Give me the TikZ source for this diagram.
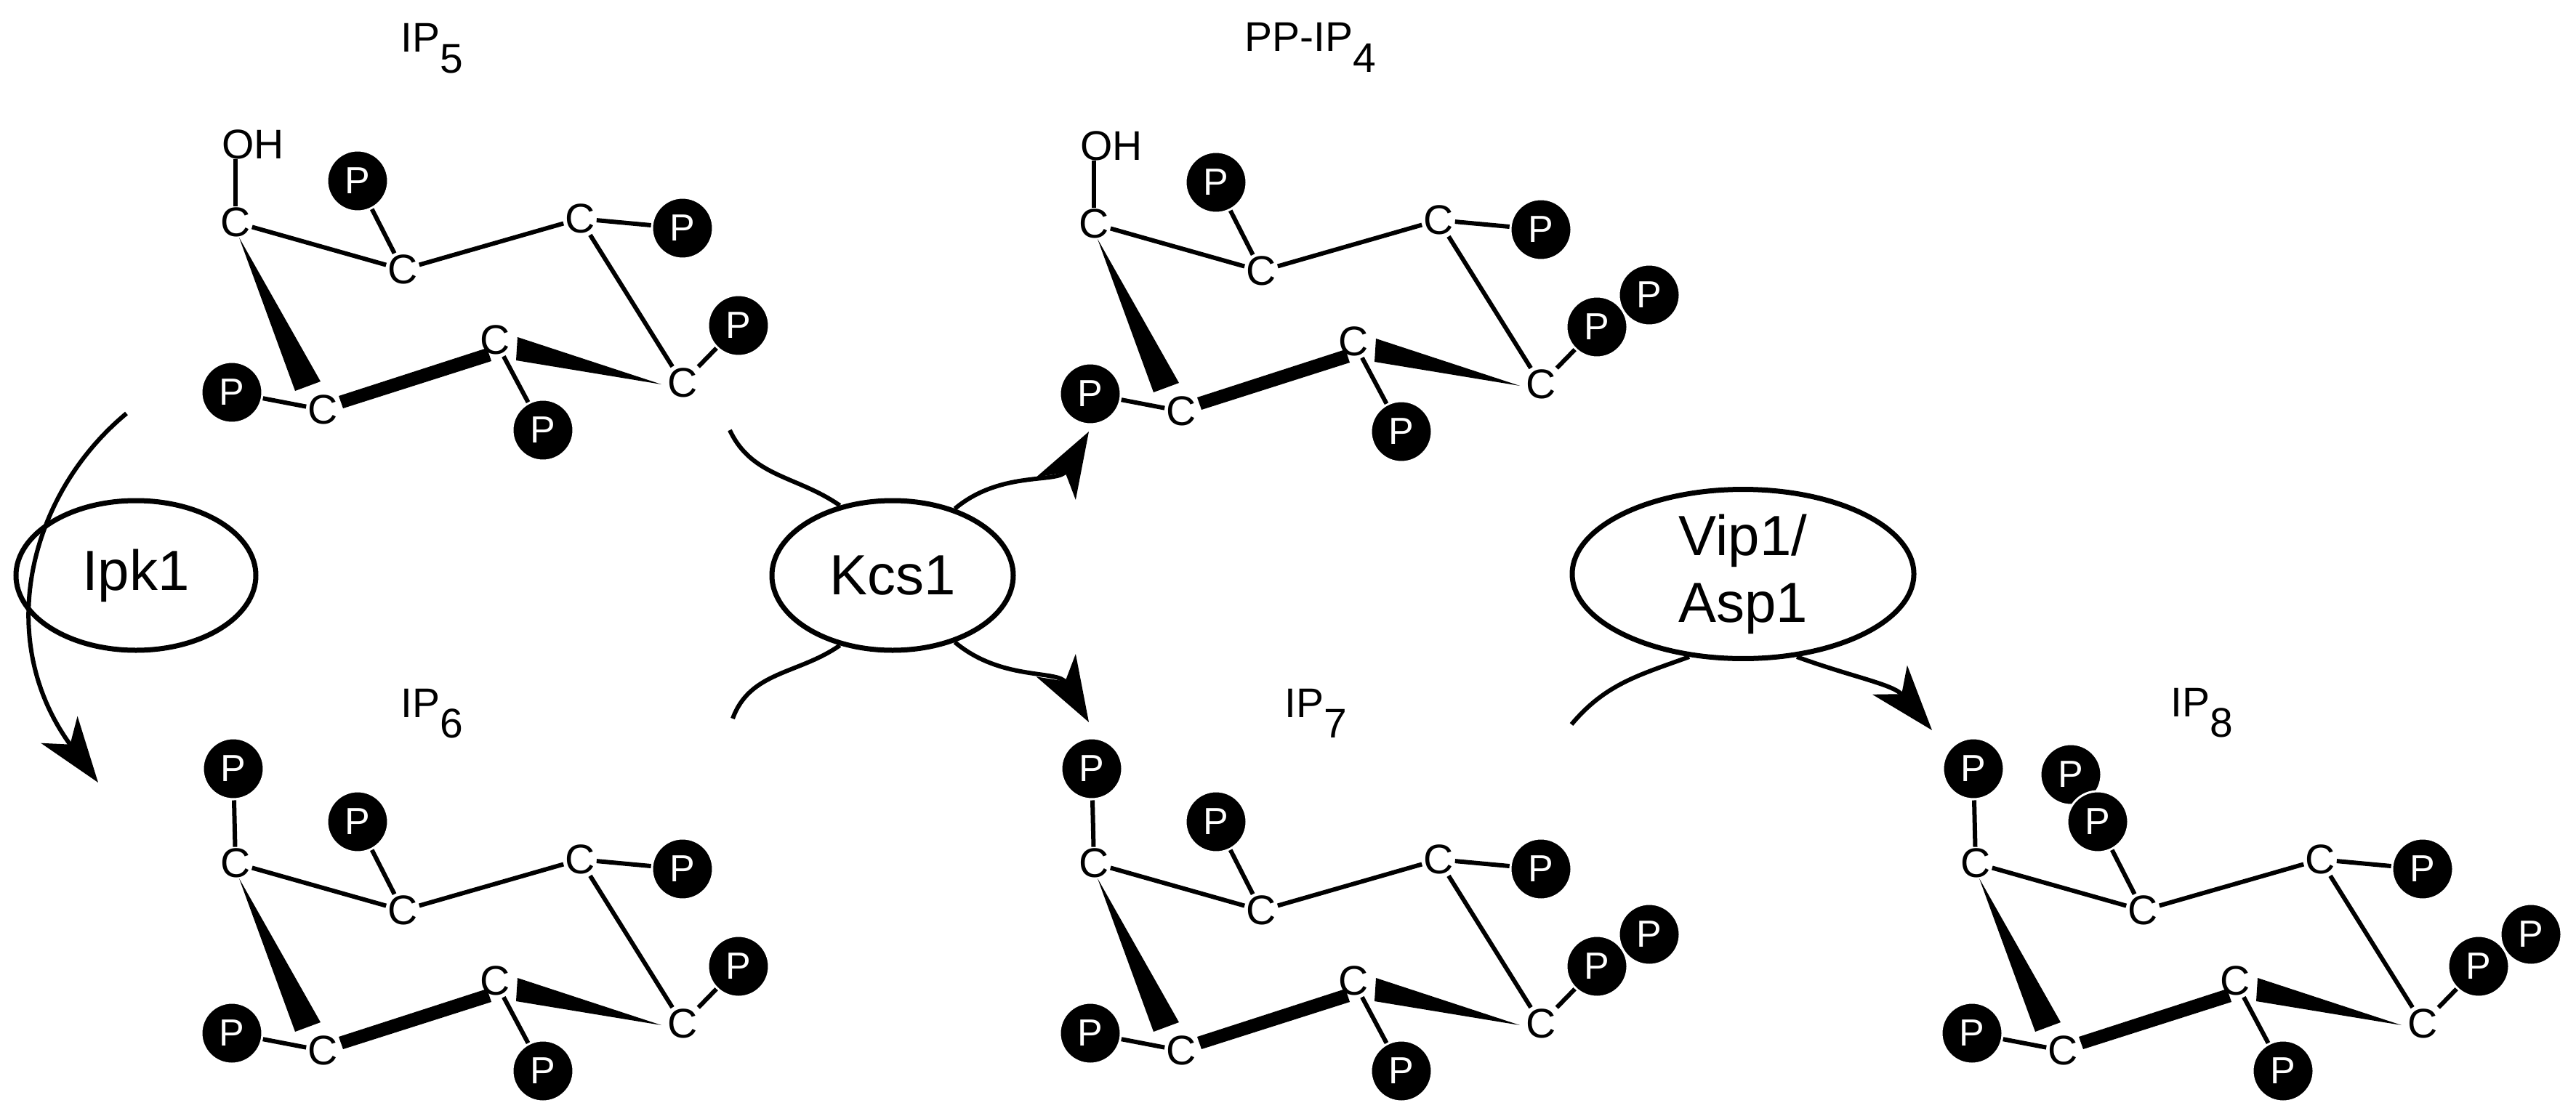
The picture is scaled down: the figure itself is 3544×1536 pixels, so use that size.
\documentclass[tikz,border=0pt]{standalone}
\usepackage{fontspec}
\setmainfont{Liberation Sans}
\usetikzlibrary{arrows.meta,shapes.geometric}
\tikzset{
  cn/.style={font=\fontsize{57}{60}\selectfont, inner sep=2pt},
  pn/.style={circle, fill=black, draw=white, line width=3pt, text=white, minimum size=84pt, inner sep=0pt, font=\fontsize{52}{52}\selectfont},
  bond/.style={line width=6pt},
  lbl/.style={font=\fontsize{57}{60}\selectfont, inner sep=0pt, anchor=base west},
  enz/.style={ellipse, draw, line width=7pt, inner sep=0pt, font=\fontsize{78}{92}\selectfont, align=center},
  arr/.style={line width=6pt, -{Stealth[length=90pt,width=62pt,inset=25pt]}},
  link/.style={line width=6pt},
}
\newcommand\sbs[1]{\raisebox{-0.5em}{#1}}
\newcommand\ipmol[6]{%
\begin{scope}[shift={(#2,#3)}]
  \node[cn] (#1c1) at (0,0) {C};
  \node[cn] (#1c2) at (230,65) {C};
  \node[cn] (#1c3) at (474,-5) {C};
  \node[cn] (#1c4) at (615,221) {C};
  \node[cn] (#1c5) at (357,162) {C};
  \node[cn] (#1c6) at (120,258) {C};
  \draw[bond] (#1c1) -- (#1c2);
  \draw[bond] (#1c2) -- (#1c3);
  \draw[bond] (#1c3) -- (#1c4);
  \fill (5,21) -- (82,232) -- (117,219) -- cycle;
  \fill (142,239) -- (346,173) -- (352,191) -- (148,256) -- cycle;
  \fill (388,158) -- (386,190) -- (586,223) -- cycle;
  \ifnum#4=1
    \node[pn] (#1p1) at (-3,-130) {P};
    \draw[bond] (#1c1) -- (#1p1);
  \else
    \node[cn, anchor=west, inner sep=0pt] (#1oh) at (-19,-107) {OH};
    \draw[bond] (#1c1) -- (#1c1 |- #1oh.south);
  \fi
  \ifnum#5=1
    \node[pn] (#1p2b) at (131,-122) {P};
  \fi
  \node[pn] (#1p2) at (168,-57) {P};
  \draw[bond] (#1c2) -- (#1p2);
  \node[pn] (#1p3) at (615,8) {P};
  \draw[bond] (#1c3) -- (#1p3);
  \ifnum#6=1
    \node[pn] (#1p4b) at (764,98) {P};
  \fi
  \node[pn] (#1p4) at (692,142) {P};
  \draw[bond] (#1c4) -- (#1p4);
  \node[pn] (#1p5) at (423,286) {P};
  \draw[bond] (#1c5) -- (#1p5);
  \node[pn] (#1p6) at (-5,234) {P};
  \draw[bond] (#1c6) -- (#1p6);
\end{scope}}
\begin{document}
\begin{tikzpicture}[x=1pt,y=-1pt]
\useasboundingbox[fill=white] (0,0) rectangle (3544,1536);
\ipmol{a}{324}{306}{0}{0}{0}
\ipmol{b}{1505}{308}{0}{0}{1}
\ipmol{c}{324}{1188}{1}{0}{0}
\ipmol{d}{1505}{1188}{1}{0}{1}
\ipmol{e}{2718}{1188}{1}{1}{1}
\node[lbl] (la) at (551,72) {IP\sbs{5}};
\node[lbl] (lb) at (1712,71) {PP-IP\sbs{4}};
\node[lbl] (lc) at (551,987) {IP\sbs{6}};
\node[lbl] (ld) at (1767,987) {IP\sbs{7}};
\node[lbl] (le) at (2986,986) {IP\sbs{8}};
\node[enz, minimum width=330pt, minimum height=206pt] (ipk) at (187,792) {Ipk1};
\node[enz, minimum width=332pt, minimum height=206pt] (kcs) at (1228,792) {Kcs1};
\node[enz, minimum width=470pt, minimum height=214pt] (vip) at (2398,790) {Vip1/\\Asp1};
\coordinate (i0) at (174,569);
\coordinate (i1) at (135,1077);
\draw[arr] (i0) .. controls (40,680) and (-10,880) .. (i1);
\coordinate (k0) at (1004,592);
\coordinate (k1) at (1498,594);
\coordinate (k2) at (1008,989);
\coordinate (k3) at (1498,994);
\draw[link] (k0) to[out=-65,in=145] (kcs.127);
\draw[arr] (kcs.47) to[out=40,in=240] (k1);
\draw[link] (kcs.233) to[out=215,in=70] (k2);
\draw[arr] (kcs.313) to[out=-40,in=120] (k3);
\coordinate (v0) at (2162,997);
\coordinate (v1) at (2658,1005);
\draw[link] (v0) to[out=50,in=200] (vip.237);
\draw[arr] (vip.303) to[out=-20,in=130] (v1);
\end{tikzpicture}
\end{document}
